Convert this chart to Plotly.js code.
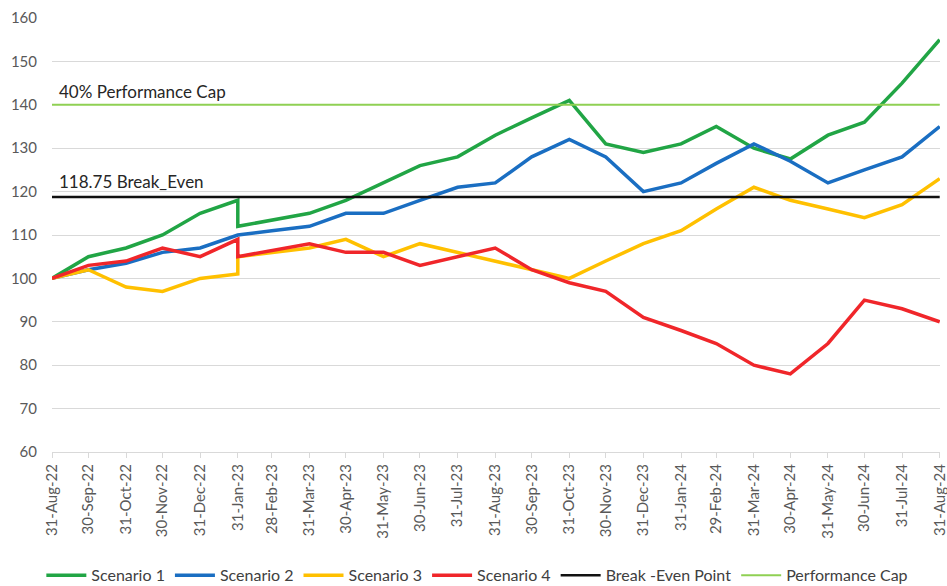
<!DOCTYPE html>
<html>
<head>
<meta charset="utf-8">
<script src="https://cdn.plot.ly/plotly-3.0.1.min.js"></script>
<style>html,body{margin:0;padding:0;background:#fff;}#chart{width:947px;height:586px;}</style>
</head>
<body>
<div id="chart"></div>
<script>
// Month-end dates (31-Jan-23 appears twice: value jump on the same date)
const dates = ["2022-08-31","2022-09-30","2022-10-31","2022-11-30","2022-12-31","2023-01-31","2023-01-31",
  "2023-02-28","2023-03-31","2023-04-30","2023-05-31","2023-06-30","2023-07-31","2023-08-31",
  "2023-09-30","2023-10-31","2023-11-30","2023-12-31","2024-01-31","2024-02-29","2024-03-31",
  "2024-04-30","2024-05-31","2024-06-30","2024-07-31","2024-08-31"];
const scenario1 = [100,105,107,110,115,118,112,113.5,115,118,122,126,128,133,137,141,131,129,131,135,130,127.5,133,136,145,155];
const scenario2 = [100,102,103.5,106,107,110,110,111,112,115,115,118,121,122,128,132,128,120,122,126.5,131,127,122,125,128,135];
const scenario3 = [100,102,98,97,100,101,105,106,107,109,105,108,106,104,102,100,104,108,111,116,121,118,116,114,117,123];
const scenario4 = [100,103,104,107,105,109,105,106.5,108,106,106,103,105,107,102,99,97,91,88,85,80,78,85,95,93,90];
const breakEven = 118.75;
const perfCap = 140;
const tickDates = ["2022-08-31","2022-09-30","2022-10-31","2022-11-30","2022-12-31","2023-01-31",
  "2023-02-28","2023-03-31","2023-04-30","2023-05-31","2023-06-30","2023-07-31","2023-08-31",
  "2023-09-30","2023-10-31","2023-11-30","2023-12-31","2024-01-31","2024-02-29","2024-03-31",
  "2024-04-30","2024-05-31","2024-06-30","2024-07-31","2024-08-31"];
const tickLabels = ["31-Aug-22","30-Sep-22","31-Oct-22","30-Nov-22","31-Dec-22","31-Jan-23","28-Feb-23",
  "31-Mar-23","30-Apr-23","31-May-23","30-Jun-23","31-Jul-23","31-Aug-23","30-Sep-23","31-Oct-23",
  "30-Nov-23","31-Dec-23","31-Jan-24","29-Feb-24","31-Mar-24","30-Apr-24","31-May-24","30-Jun-24",
  "31-Jul-24","31-Aug-24"];
const seriesNames = ["Scenario 1","Scenario 2","Scenario 3","Scenario 4","Break -Even Point","Performance Cap"];
const annotationTexts = ["40% Performance Cap","118.75 Break_Even"];

const font = "Lato, 'Open Sans', sans-serif";
const firstDate = dates[0], lastDate = dates[dates.length-1];

function line(name, y, color, width){
  return {x: dates, y: y, name: name, type: "scatter", mode: "lines",
    line: {color: color, width: width}, hoverinfo: "x+y"};
}
const traces = [
  line(seriesNames[0], scenario1, "#21a545", 3.5),
  line(seriesNames[1], scenario2, "#1a6ec2", 3.5),
  line(seriesNames[2], scenario3, "#ffc000", 3.5),
  line(seriesNames[3], scenario4, "#f0262a", 3.5),
  {x: [firstDate, lastDate], y: [breakEven, breakEven], name: seriesNames[4], type: "scatter", mode: "lines",
    line: {color: "#111111", width: 2.5}},
  {x: [firstDate, lastDate], y: [perfCap, perfCap], name: seriesNames[5], type: "scatter", mode: "lines",
    line: {color: "#8fd053", width: 2}}
];

const layout = {
  width: 947, height: 586,
  margin: {l: 52, r: 7, t: 18, b: 134, autoexpand: false},
  paper_bgcolor: "#ffffff", plot_bgcolor: "#ffffff",
  font: {family: font, size: 15, color: "#595959"},
  showlegend: true,
  legend: {orientation: "h", x: -0.012, xanchor: "left", y: -0.284, yanchor: "middle",
    font: {family: font, size: 16, color: "#404040"}, tracegroupgap: 0, itemwidth: 40},
  xaxis: {type: "date", range: [firstDate, lastDate + " 06:00"], tickvals: tickDates, ticktext: tickLabels,
    tickangle: -90, showgrid: false, zeroline: false, showline: true, linecolor: "#d9d9d9", linewidth: 1,
    automargin: false, ticklabeloverflow: "allow",
    ticks: "outside", ticklen: 5, tickcolor: "#d9d9d9", tickfont: {family: font, size: 15, color: "#595959"}},
  yaxis: {range: [60, 160], dtick: 10, tick0: 60, showgrid: true, gridcolor: "#d9d9d9", gridwidth: 1,
    zeroline: false, showline: false, ticks: "", ticklabelstandoff: 14, automargin: false,
    tickfont: {family: font, size: 15, color: "#595959"}},
  annotations: [
    {xref: "paper", yref: "y", x: 0.006, y: perfCap, xanchor: "left", yanchor: "bottom", yshift: 1,
      text: annotationTexts[0], showarrow: false, font: {family: font, size: 17, color: "#262626"}},
    {xref: "paper", yref: "y", x: 0.006, y: breakEven, xanchor: "left", yanchor: "bottom", yshift: 3,
      text: annotationTexts[1], showarrow: false, font: {family: font, size: 17, color: "#262626"}}
  ]
};
Plotly.newPlot("chart", traces, layout, {displayModeBar: false, staticPlot: true});
</script>
</body>
</html>
